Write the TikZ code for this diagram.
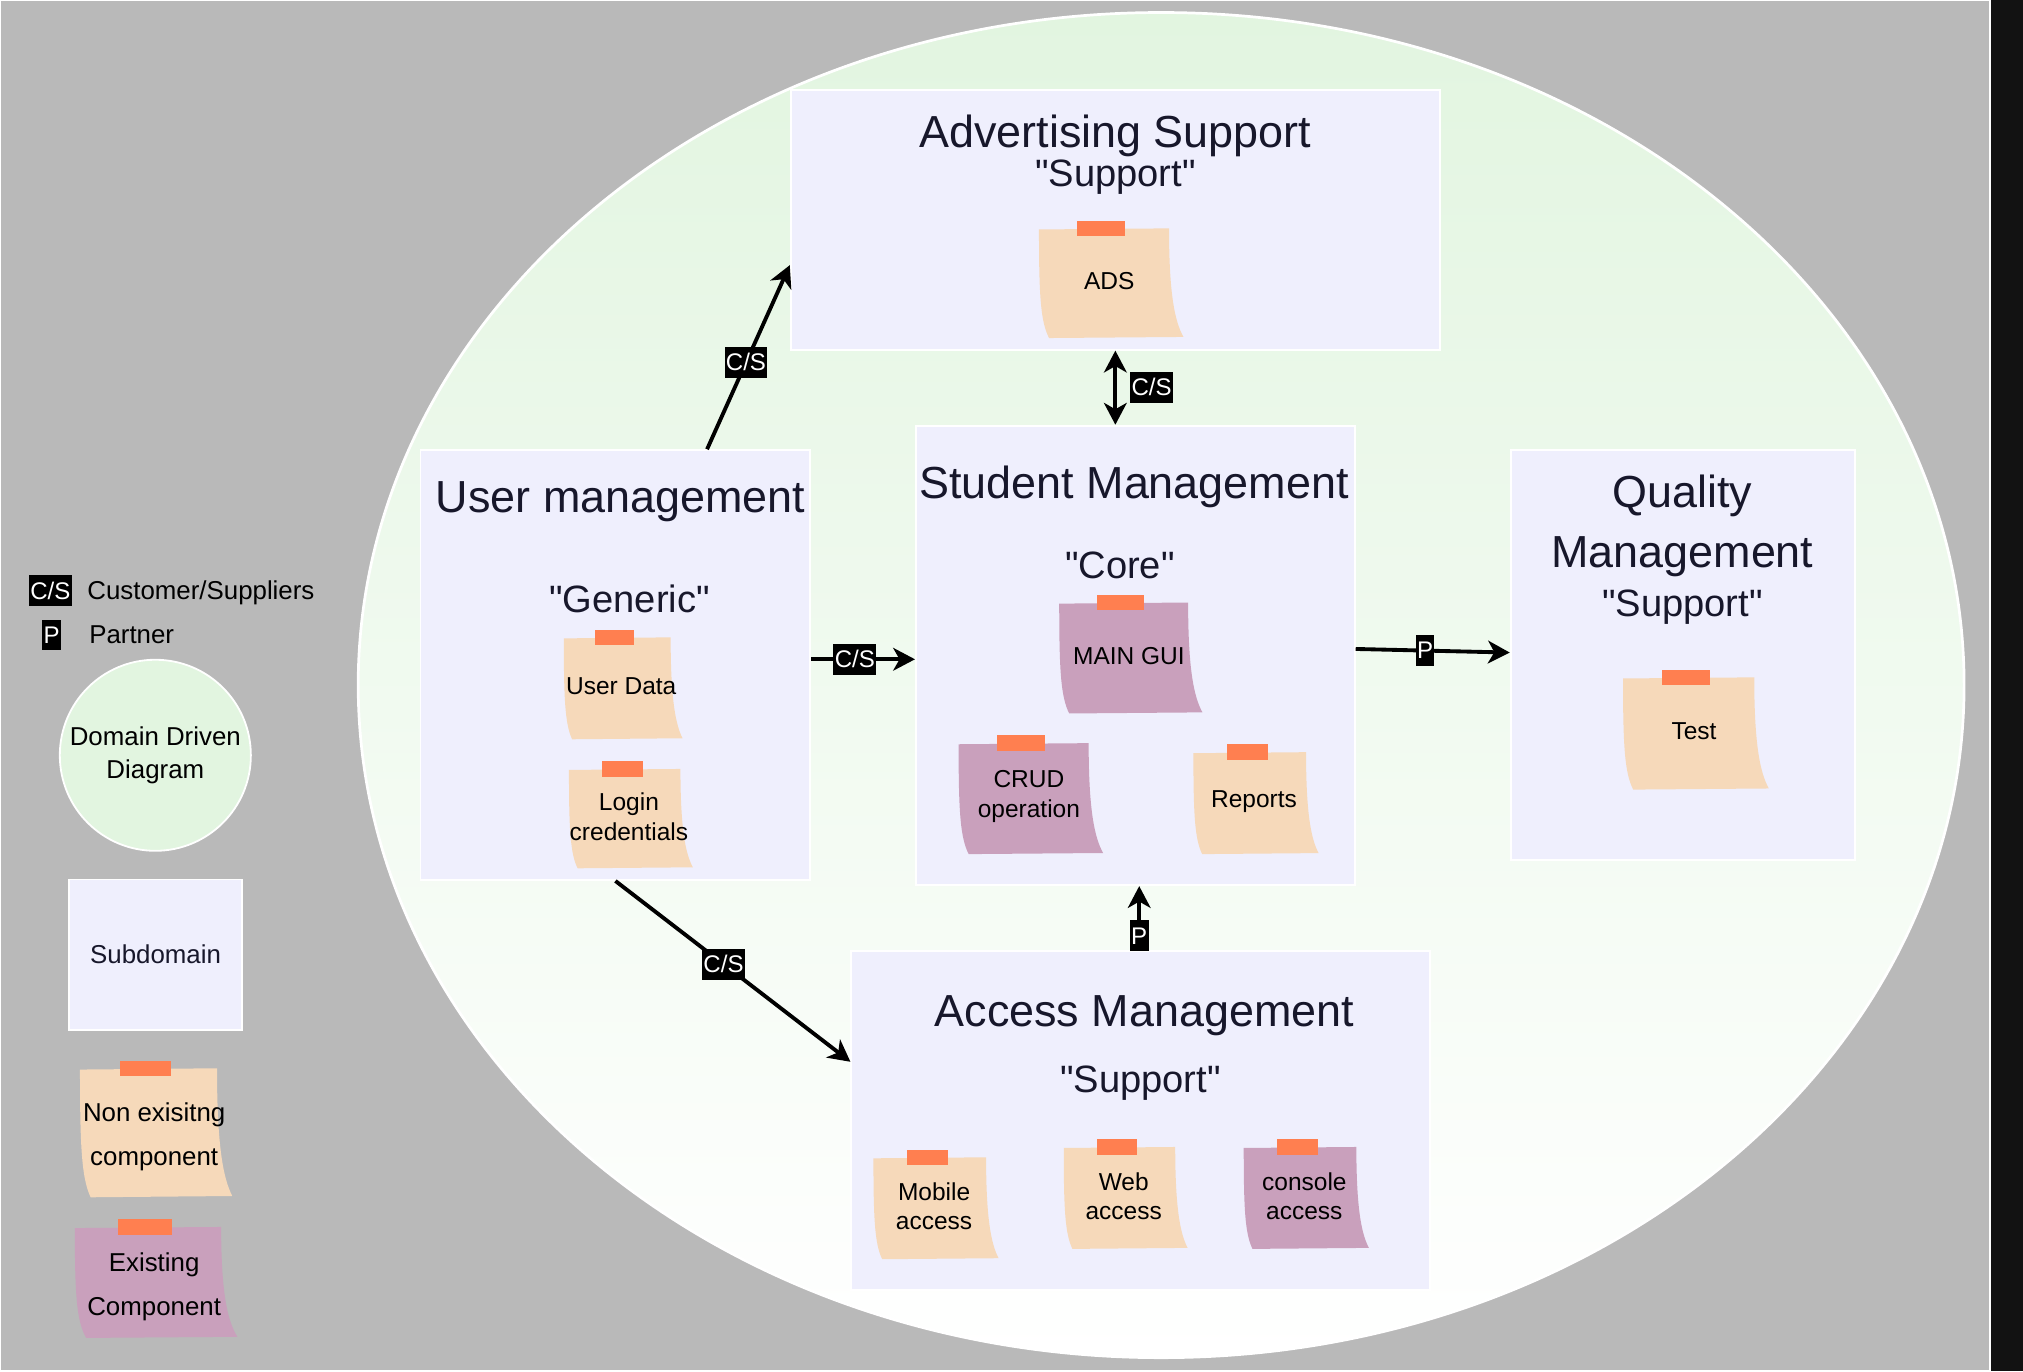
\documentclass[tikz,border=0pt]{standalone}
\usepackage{fontspec}
\setmainfont{Liberation Sans}[Ligatures=TeXOff]
\usetikzlibrary{arrows.meta}

\definecolor{bggray}{HTML}{B9B9B9}
\definecolor{stripdark}{HTML}{121212}
\definecolor{domaingreen}{HTML}{E2F5E0}
\definecolor{subfill}{HTML}{EFEFFD}
\definecolor{titleink}{HTML}{17172B}
\definecolor{newnote}{HTML}{F6D9BA}
\definecolor{oldnote}{HTML}{C9A0BC}
\definecolor{tapecol}{HTML}{FF7F50}

\tikzset{
  subdomain/.style={fill=subfill, draw=white, line width=0.4pt, inner sep=0pt},
  title/.style={font=\fontsize{9.9}{13}\selectfont, text=titleink, inner sep=0pt},
  kind/.style={font=\fontsize{8.4}{10}\selectfont, text=titleink, inner sep=0pt},
  note/.style={font=\fontsize{5.4}{6.5}\selectfont, align=center, inner sep=0pt},
  legend/.style={font=\fontsize{5.7}{7.1}\selectfont, inner sep=0pt},
  badge/.style={fill=black, text=white, font=\fontsize{5.3}{6}\selectfont,
    inner xsep=0.3pt, inner ysep=1.3pt, text height=3.9pt, text depth=0.3pt},
  link/.style={line width=0.85pt, -{Stealth[length=4.8pt, width=5pt, inset=1.4pt]}},
  twoway/.style={line width=0.85pt,
    {Stealth[length=4.8pt, width=5pt, inset=1.4pt]}-{Stealth[length=4.8pt, width=5pt, inset=1.4pt]}},
}

% sticky note: [node opts]{name}{cx}{cy}{width}{height}{colour}{text}
\newcommand{\stickynote}[8][]{%
  \fill[#7] ({#3-0.5*#5},{#4-0.49*#6}) -- ({#3+0.4*#5},{#4-0.5*#6})
    .. controls ({#3+0.4*#5},{#4+0.1*#6}) and ({#3+0.44*#5},{#4+0.35*#6}) .. ({#3+0.5*#5},{#4+0.49*#6})
    -- ({#3-0.43*#5},{#4+0.5*#6})
    .. controls ({#3-0.49*#5},{#4+0.35*#6}) and ({#3-0.5*#5},{#4+0.1*#6}) .. cycle;
  \fill[tapecol] ({#3-0.235*#5},{#4-0.5*#6-6}) rectangle ({#3+0.095*#5},{#4-0.5*#6+6});
  \node[note, #1] (#2) at ({#3-1.5},{#4-1.5}) {#8};
}

\begin{document}
\begin{tikzpicture}[x=0.01cm, y=-0.01cm]
        \useasboundingbox (0,0) rectangle (1568,1063);
        % background
        \fill[white] (0,0) rectangle (1568,1063);
        \fill[bggray] (0.8,0.8) rectangle (1542,1061.5);
        \fill[stripdark] (1543.2,0) rectangle (1568,1063);

        % domain
        \draw[white, line width=0.6pt, top color=domaingreen, bottom color=white]
            (900,531) ellipse [x radius=6.22cm, y radius=5.21cm];

        % legend
        \node[badge] (legcs) at (39,458) {C/S};
        \node[legend, anchor=base west] (legcstext) at (67,465) {Customer/Suppliers};
        \node[badge] (legp) at (40,492.2) {P};
        \node[legend, anchor=base west] (legptext) at (68.5,499) {Partner};
        \node[legend, circle, fill=domaingreen, draw=white, line width=0.4pt,
            minimum size=1.48cm, align=center] (legdomain) at (120.4,585.4) {Domain Driven\\Diagram};
        \node[subdomain, legend, text=titleink, minimum width=1.34cm, minimum height=1.165cm]
            (legsub) at (120.6,740) {Subdomain};
        \stickynote[font=\fontsize{5.7}{9.8}\selectfont, yshift=-0.045cm]{legnew}{121}{878}{118}{100}{newnote}{Non exisitng\\component}
        \stickynote[font=\fontsize{5.7}{9.8}\selectfont, yshift=-0.05cm]{legold}{121}{994}{126}{86}{oldnote}{Existing\\Component}

        % subdomains
        \node[subdomain, minimum width=5.03cm, minimum height=2.01cm] (ads) at (864.5,170.5) {};
        \node[subdomain, minimum width=3.02cm, minimum height=3.33cm] (um) at (477,515.5) {};
        \node[subdomain, minimum width=3.40cm, minimum height=3.56cm] (sm) at (880,508) {};
        \node[subdomain, minimum width=2.67cm, minimum height=3.176cm] (qm) at (1304.5,507.8) {};
        \node[subdomain, minimum width=4.48cm, minimum height=2.63cm] (am) at (884,868.5) {};

        \node[title, anchor=base] (adstitle) at (864.5,114) {Advertising Support};
        \node[kind, anchor=base] (adskind) at (864.5,144.4) {"Support"};
        \node[title, anchor=base] (umtitle) at (481,397.6) {User management};
        \node[kind, anchor=base] (umkind) at (488,475) {"Generic"};
        \node[title, anchor=base] (smtitle) at (879,386) {Student Management};
        \node[kind, anchor=base] (smkind) at (868,448) {"Core"};
        \node[title, anchor=base] (qmtitle) at (1304,393.7) {Quality};
        \node[title, anchor=base] (qmtitlex) at (1304,440) {Management};
        \node[kind, anchor=base] (qmkind) at (1304,477.7) {"Support"};
        \node[title, anchor=base] (amtitle) at (887,795.5) {Access Management};
        \node[kind, anchor=base] (amkind) at (884,847) {"Support"};

        % components
        \stickynote{adsnote}{861.3}{219.5}{112}{85}{newnote}{ADS}
        \stickynote{userdata}{483}{533.5}{92}{79}{newnote}{User Data}
        \stickynote{login}{489}{634.5}{96}{77}{newnote}{Login\\credentials}
        \stickynote{maingui}{876.5}{510}{111}{86}{oldnote}{MAIN GUI}
        \stickynote{crud}{799}{619}{112}{86}{oldnote}{CRUD\\operation}
        \stickynote{reports}{973.5}{622.5}{97}{79}{newnote}{Reports}
        \stickynote{test}{1314.5}{568.5}{113}{87}{newnote}{Test}
        \stickynote{mobile}{725.5}{936.5}{97}{79}{newnote}{Mobile\\access}
        \stickynote{web}{872.5}{928.5}{96}{79}{newnote}{Web\\access}
        \stickynote{console}{1012.5}{928.5}{97}{79}{oldnote}{console\\access}

        % relations
        \draw[link] ([xshift=0.71cm]um.north) -- node[badge, pos=0.47] (csads) {C/S} ([yshift=-0.35cm]ads.west);
        \draw[twoway] (ads.south) -- node[badge, right=0.1cm] (cscore) {C/S} (ads.south |- sm.north);
        \draw[link] ([yshift=0.045cm]um.east) -- node[badge, pos=0.42] (csuser) {C/S} ([yshift=0.045cm]um.east -| sm.west);
        \draw[link] ([yshift=0.05cm]sm.east) -- node[badge, pos=0.45] (pquality) {P} ([yshift=0.02cm]qm.west);
        \draw[link] ([xshift=-0.01cm]am.north) -- node[badge, pos=0.22] (paccess) {P} ([xshift=-0.01cm]am.north |- sm.south);
        \draw[link] (um.south) -- node[badge, pos=0.46] (csaccess) {C/S} ([yshift=0.455cm]am.west);
\end{tikzpicture}
\end{document}
